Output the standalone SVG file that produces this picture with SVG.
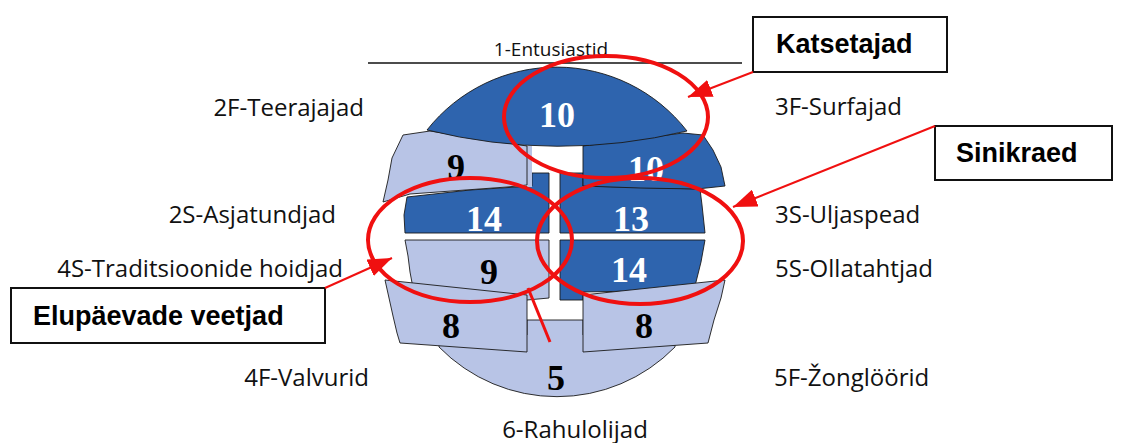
<svg xmlns="http://www.w3.org/2000/svg" width="1125" height="443" viewBox="0 0 1125 443">
<defs>
<style>
.dk{fill:#2E64AE;stroke:#1a1a1a;stroke-width:0.9}
.lt{fill:#B8C4E6;stroke:#1a1a1a;stroke-width:0.9}
.num{font-family:"Liberation Serif","Times New Roman",serif;font-weight:bold;font-size:36px;text-anchor:middle}
.w{fill:#ffffff}
.b{fill:#000000}
.lbl{font-family:"Open Sans","DejaVu Sans",sans-serif;font-size:24px;fill:#111}
.box{fill:#ffffff;stroke:#111;stroke-width:2}
.bt{font-family:"Liberation Sans",Arial,sans-serif;font-weight:bold;font-size:27px;fill:#000}
.red{fill:none;stroke:#F01010;stroke-width:4}
.conn{fill:none;stroke:#F01010;stroke-width:2}
</style>
<marker id="ah" viewBox="0 0 24 18" refX="24" refY="9" markerWidth="24" markerHeight="18" markerUnits="userSpaceOnUse" orient="auto">
<path d="M0,0 L24,9 L0,18 Z" fill="#F01010"/>
</marker>
</defs>
<rect width="1125" height="443" fill="#ffffff"/>

<g id="sphere">
<g id="seg-5"><path class="lt" d="M439,347 A165,165 0 0 0 675,347 L675,335 L583,335 L583,320 L527,320 L527,335 L439,335 Z"/></g>
<g id="seg-9-lower"><path class="lt" d="M405,240 L549,240 L549,298 L527,300 L413,288 L410,272 L408,256 Z"/></g>
<g id="seg-14-lower"><path class="dk" d="M560,240 L705,240 L701,262 L694,290 L583,292 L583,300 L560,300 Z"/></g>
<g id="seg-8-left"><path class="lt" d="M385,280 L527,295 L527,352 L400,343 L397,333 L393,316 L389,298 Z"/></g>
<g id="seg-8-right"><path class="lt" d="M583,295 L725,280 L721,298 L714,320 L708,343 L583,352 Z"/></g>
<g id="seg-14-upper"><path class="dk" d="M407,197 L470,190 L532,186 L532,173 L549,173 L549,233 L405,233 L404,215 Z"/></g>
<rect x="527" y="146" width="5" height="41" fill="#B8C4E6"/>
<g id="seg-9-upper"><path class="lt" d="M403,135 L430,131 L527,146 L527,185 L507,187 L410,194 L383,202 L388,180 L392,158 Z"/></g>
<g id="seg-13"><path class="dk" d="M560,173 L583,173 L583,186 L700,189 L702,205 L705,233 L560,233 Z"/></g>
<g id="seg-10-right"><path class="dk" d="M583,146 L683,133 L703,135 L713,150 L721,167 L725,186 L697,189 L640,188 L583,186 Z"/></g>
<g id="seg-10-top"><path class="dk" d="M427,130 A165,165 0 0 1 687,131 Q557,162 427,130 Z"/></g>

<text class="num w" x="557" y="127">10</text>
<text class="num b" x="456" y="179">9</text>
<text class="num w" x="646" y="181">10</text>
<text class="num w" x="484" y="231">14</text>
<text class="num w" x="631" y="231">13</text>
<text class="num b" x="489" y="284">9</text>
<text class="num w" x="629" y="282">14</text>
<text class="num b" x="451" y="338">8</text>
<text class="num b" x="644" y="338">8</text>
<text class="num b" x="556" y="390">5</text>
</g>

<g id="labels">
<line x1="368" y1="63" x2="742" y2="63" stroke="#111" stroke-width="1.5"/>
<text class="lbl" x="551" y="56" text-anchor="middle" style="font-size:19px">1-Entusiastid</text>
<text class="lbl" x="364" y="116" text-anchor="end">2F-Teerajajad</text>
<text class="lbl" x="336" y="223" text-anchor="end">2S-Asjatundjad</text>
<text class="lbl" x="343" y="277" text-anchor="end">4S-Traditsioonide hoidjad</text>
<text class="lbl" x="369" y="386" text-anchor="end">4F-Valvurid</text>
<text class="lbl" x="775" y="115">3F-Surfajad</text>
<text class="lbl" x="775" y="223">3S-Uljaspead</text>
<text class="lbl" x="775" y="277">5S-Ollatahtjad</text>
<text class="lbl" x="774" y="386">5F-Žonglöörid</text>
<text class="lbl" x="575" y="438" text-anchor="middle">6-Rahulolijad</text>
</g>

<g id="highlights">
<ellipse class="red" cx="606" cy="117" rx="102" ry="61"/>
<ellipse class="red" cx="470" cy="240" rx="102" ry="62"/>
<ellipse class="red" cx="640" cy="241" rx="103" ry="63"/>
</g>

<g id="box-katsetajad">
<rect class="box" x="753" y="17" width="194" height="55"/>
<text class="bt" x="776" y="53">Katsetajad</text>
</g>
<g id="box-sinikraed">
<rect class="box" x="935" y="126" width="177" height="54"/>
<text class="bt" x="956" y="162">Sinikraed</text>
</g>
<g id="box-elupaevade">
<rect class="box" x="11" y="288" width="314" height="55"/>
<text class="bt" x="33" y="325">Elupäevade veetjad</text>
</g>

<g id="connectors">
<line class="conn" x1="753" y1="72" x2="688" y2="97" marker-end="url(#ah)"/>
<line class="conn" x1="935" y1="126" x2="733" y2="207" marker-end="url(#ah)"/>
<line class="conn" x1="325" y1="288" x2="392" y2="258" marker-end="url(#ah)"/>
<line class="conn" x1="528" y1="288" x2="550" y2="342" style="stroke-width:3"/>
</g>
</svg>
